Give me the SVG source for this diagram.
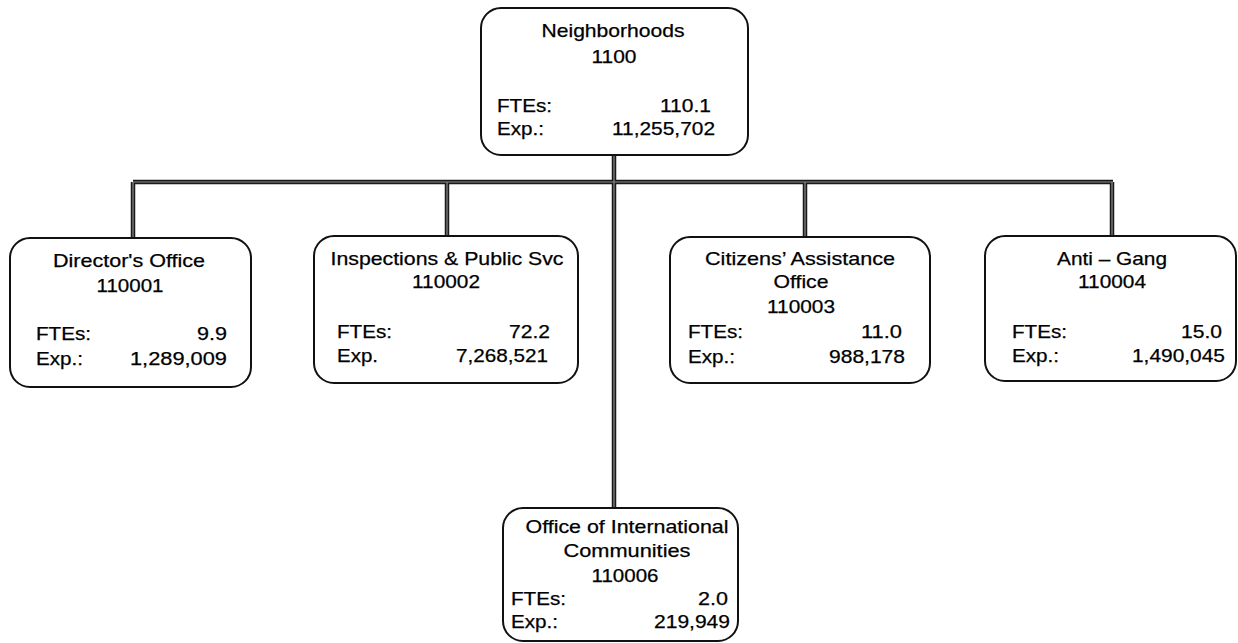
<svg xmlns="http://www.w3.org/2000/svg" width="1238" height="643" viewBox="0 0 1238 643">
<style>
.bg{fill:#ffffff}
.box{fill:#ffffff;stroke:#111111;stroke-width:2}
.t{font-family:"Liberation Sans",Arial,sans-serif;font-size:18.5px;fill:#000000;stroke:#000000;stroke-width:0.25}
.c{text-anchor:middle}
.r{text-anchor:end}
.line{fill:none;stroke:#1a1a1a;stroke-width:4.5}
.line2{fill:none;stroke:#8a8a8a;stroke-width:1.2}
</style>
<rect class="bg" x="0" y="0" width="1238" height="643"/>
<g id="connectors">
<path class="line" d="M614,155 V508 M133,182 H1113 M133,182 V238 M447,182 V236 M805,182 V237 M1112,182 V236"/>
<path class="line2" d="M614,155 V508 M133,182 H1113 M133,182 V238 M447,182 V236 M805,182 V237 M1112,182 V236"/>
</g>
<g id="n1100">
<rect class="box" x="481" y="8" width="267" height="147" rx="20"/>
<text class="t c" x="613" y="37" textLength="143" lengthAdjust="spacingAndGlyphs">Neighborhoods</text>
<text class="t c" x="614" y="63" textLength="45" lengthAdjust="spacingAndGlyphs">1100</text>
<text class="t" x="497" y="112" textLength="55" lengthAdjust="spacingAndGlyphs">FTEs:</text>
<text class="t r" x="711" y="112" textLength="51" lengthAdjust="spacingAndGlyphs">110.1</text>
<text class="t" x="497" y="135" textLength="47" lengthAdjust="spacingAndGlyphs">Exp.:</text>
<text class="t r" x="715" y="135" textLength="103" lengthAdjust="spacingAndGlyphs">11,255,702</text>
</g>
<g id="n110001">
<rect class="box" x="10" y="238" width="241" height="149" rx="20"/>
<text class="t c" x="129" y="267" textLength="152" lengthAdjust="spacingAndGlyphs">Director's Office</text>
<text class="t c" x="130" y="292" textLength="67" lengthAdjust="spacingAndGlyphs">110001</text>
<text class="t" x="36" y="340" textLength="55" lengthAdjust="spacingAndGlyphs">FTEs:</text>
<text class="t r" x="227" y="340" textLength="30" lengthAdjust="spacingAndGlyphs">9.9</text>
<text class="t" x="36" y="365" textLength="47" lengthAdjust="spacingAndGlyphs">Exp.:</text>
<text class="t r" x="227" y="365" textLength="97" lengthAdjust="spacingAndGlyphs">1,289,009</text>
</g>
<g id="n110002">
<rect class="box" x="314" y="236" width="264" height="147" rx="20"/>
<text class="t c" x="447" y="265" textLength="233" lengthAdjust="spacingAndGlyphs">Inspections &amp; Public Svc</text>
<text class="t c" x="446" y="288" textLength="68" lengthAdjust="spacingAndGlyphs">110002</text>
<text class="t" x="337" y="338" textLength="55" lengthAdjust="spacingAndGlyphs">FTEs:</text>
<text class="t r" x="550" y="338" textLength="41" lengthAdjust="spacingAndGlyphs">72.2</text>
<text class="t" x="337" y="362" textLength="41" lengthAdjust="spacingAndGlyphs">Exp.</text>
<text class="t r" x="548" y="362" textLength="92" lengthAdjust="spacingAndGlyphs">7,268,521</text>
</g>
<g id="n110003">
<rect class="box" x="670" y="237" width="260" height="146" rx="20"/>
<text class="t c" x="800" y="265" textLength="190" lengthAdjust="spacingAndGlyphs">Citizens’ Assistance</text>
<text class="t c" x="801" y="288" textLength="55" lengthAdjust="spacingAndGlyphs">Office</text>
<text class="t c" x="801" y="313" textLength="68" lengthAdjust="spacingAndGlyphs">110003</text>
<text class="t" x="688" y="338" textLength="55" lengthAdjust="spacingAndGlyphs">FTEs:</text>
<text class="t r" x="902" y="338" textLength="41" lengthAdjust="spacingAndGlyphs">11.0</text>
<text class="t" x="688" y="363" textLength="47" lengthAdjust="spacingAndGlyphs">Exp.:</text>
<text class="t r" x="905" y="363" textLength="76" lengthAdjust="spacingAndGlyphs">988,178</text>
</g>
<g id="n110004">
<rect class="box" x="985" y="236" width="251" height="145" rx="20"/>
<text class="t c" x="1112" y="265" textLength="110" lengthAdjust="spacingAndGlyphs">Anti – Gang</text>
<text class="t c" x="1112" y="288" textLength="68" lengthAdjust="spacingAndGlyphs">110004</text>
<text class="t" x="1012" y="338" textLength="55" lengthAdjust="spacingAndGlyphs">FTEs:</text>
<text class="t r" x="1222" y="338" textLength="41" lengthAdjust="spacingAndGlyphs">15.0</text>
<text class="t" x="1012" y="362" textLength="47" lengthAdjust="spacingAndGlyphs">Exp.:</text>
<text class="t r" x="1225" y="362" textLength="93" lengthAdjust="spacingAndGlyphs">1,490,045</text>
</g>
<g id="n110006">
<rect class="box" x="503" y="508" width="235" height="133" rx="20"/>
<text class="t c" x="627" y="533" textLength="203" lengthAdjust="spacingAndGlyphs">Office of International</text>
<text class="t c" x="627" y="557" textLength="127" lengthAdjust="spacingAndGlyphs">Communities</text>
<text class="t c" x="625" y="582" textLength="67" lengthAdjust="spacingAndGlyphs">110006</text>
<text class="t" x="511" y="605" textLength="55" lengthAdjust="spacingAndGlyphs">FTEs:</text>
<text class="t r" x="728" y="605" textLength="30" lengthAdjust="spacingAndGlyphs">2.0</text>
<text class="t" x="511" y="628" textLength="47" lengthAdjust="spacingAndGlyphs">Exp.:</text>
<text class="t r" x="730" y="628" textLength="76" lengthAdjust="spacingAndGlyphs">219,949</text>
</g>
</svg>
